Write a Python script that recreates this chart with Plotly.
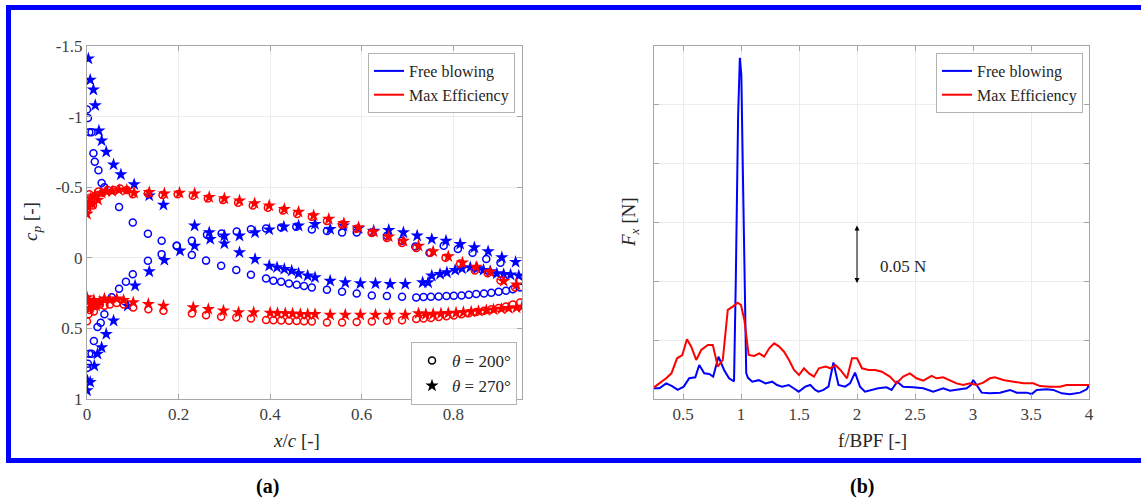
import plotly.graph_objects as go

# ---------------- (a) pressure coefficient data ----------------
# Free blowing, theta = 200 deg (blue circles)
fb200_a_x = [0.000, 0.002, 0.005, 0.010, 0.014, 0.017, 0.025, 0.032, 0.038, 0.070, 0.100, 0.133, 0.163, 0.196,
             0.229, 0.262, 0.294, 0.327, 0.358, 0.391, 0.424, 0.457, 0.491, 0.524, 0.557, 0.589, 0.622, 0.655,
             0.688, 0.717, 0.748, 0.779, 0.810, 0.842, 0.872, 0.903]
fb200_a_cp = [-1.05, -0.99, -0.89, -0.89, -0.74, -0.68, -0.62, -0.53, -0.50, -0.36, -0.25, -0.17, -0.12, -0.085,
              -0.12, -0.163, -0.172, -0.186, -0.203, -0.208, -0.215, -0.22, -0.20, -0.19, -0.18, -0.18, -0.18, -0.156,
              -0.12, -0.08, -0.035, -0.085, -0.062, -0.035, 0.009, 0.035]
fb200_b_x = [0.000, 0.002, 0.005, 0.010, 0.015, 0.023, 0.030, 0.038, 0.054, 0.070, 0.085, 0.100, 0.133, 0.163,
             0.196, 0.229, 0.260, 0.293, 0.326, 0.358, 0.391, 0.407, 0.424, 0.441, 0.458, 0.474, 0.491, 0.524,
             0.557, 0.589, 0.622, 0.655, 0.688, 0.719, 0.735, 0.751, 0.768, 0.785, 0.801, 0.818, 0.834, 0.850,
             0.867, 0.883, 0.899, 0.915, 0.930, 0.946]
fb200_b_cp = [0.78, 0.75, 0.68, 0.68, 0.59, 0.49, 0.46, 0.40, 0.28, 0.22, 0.17, 0.116, 0.021, -0.026,
              -0.085, -0.02, 0.02, 0.057, 0.087, 0.12, 0.147, 0.163, 0.17, 0.182, 0.191, 0.20, 0.21, 0.227,
              0.241, 0.253, 0.267, 0.271, 0.276, 0.281, 0.278, 0.276, 0.274, 0.271, 0.269, 0.267, 0.262, 0.257,
              0.253, 0.248, 0.241, 0.234, 0.222, 0.21]

# Free blowing, theta = 270 deg (blue stars)
fb270_a_x = [0.003, 0.007, 0.014, 0.018, 0.026, 0.032, 0.042, 0.058, 0.074, 0.103, 0.136, 0.167, 0.235, 0.267,
             0.300, 0.333, 0.367, 0.398, 0.430, 0.462, 0.498, 0.531, 0.560, 0.593, 0.626, 0.659, 0.691, 0.721,
             0.753, 0.784, 0.815, 0.846, 0.876, 0.906, 0.936]
fb270_a_cp = [-1.41, -1.26, -1.19, -1.08, -0.90, -0.83, -0.75, -0.66, -0.59, -0.52, -0.44, -0.375, -0.227, -0.179,
              -0.156, -0.156, -0.179, -0.20, -0.22, -0.227, -0.238, -0.203, -0.227, -0.208, -0.191, -0.196, -0.179, -0.156,
              -0.132, -0.12, -0.097, -0.073, -0.045, -0.002, 0.03]
fb270_b_x = [0.000, 0.001, 0.007, 0.016, 0.023, 0.032, 0.042, 0.058, 0.089, 0.105, 0.136, 0.169, 0.203, 0.235,
             0.269, 0.300, 0.333, 0.367, 0.398, 0.415, 0.431, 0.447, 0.462, 0.482, 0.498, 0.531, 0.564, 0.597,
             0.630, 0.662, 0.695, 0.733, 0.745, 0.753, 0.771, 0.786, 0.804, 0.819, 0.837, 0.852, 0.866, 0.881,
             0.895, 0.910, 0.925, 0.943]
fb270_b_cp = [0.94, 0.87, 0.88, 0.765, 0.68, 0.635, 0.54, 0.446, 0.34, 0.198, 0.097, 0.016, -0.05, -0.085,
              -0.132, -0.101, -0.038, 0.009, 0.057, 0.068, 0.08, 0.092, 0.111, 0.127, 0.139, 0.163, 0.175, 0.182,
              0.182, 0.186, 0.186, 0.175, 0.175, 0.127, 0.116, 0.104, 0.087, 0.076, 0.068, 0.076, 0.087, 0.097,
              0.111, 0.116, 0.12, 0.127]

# Max efficiency, theta = 200 deg (red circles)
me200_a_x = [0.0, 0.002, 0.005, 0.009, 0.013, 0.018, 0.025, 0.034, 0.045, 0.058, 0.072, 0.087, 0.100, 0.133,
             0.165, 0.198, 0.231, 0.264, 0.297, 0.330, 0.362, 0.395, 0.428, 0.459, 0.491, 0.524, 0.557, 0.589,
             0.622, 0.655, 0.688, 0.719, 0.750, 0.783, 0.815, 0.847, 0.875, 0.903, 0.935]
me200_a_cp = [-0.35, -0.42, -0.45, -0.40, -0.37, -0.44, -0.47, -0.46, -0.48, -0.48, -0.49, -0.48, -0.45, -0.455,
              -0.445, -0.45, -0.44, -0.42, -0.41, -0.39, -0.37, -0.355, -0.335, -0.31, -0.29, -0.26, -0.235, -0.205,
              -0.175, -0.14, -0.105, -0.07, -0.035, 0.0, 0.04, 0.09, 0.11, 0.16, 0.21]
me200_b_x = [0.0, 0.003, 0.006, 0.010, 0.015, 0.020, 0.028, 0.038, 0.050, 0.065, 0.080, 0.101, 0.134, 0.167,
             0.229, 0.260, 0.293, 0.326, 0.358, 0.391, 0.407, 0.424, 0.441, 0.458, 0.474, 0.491, 0.524, 0.557,
             0.589, 0.622, 0.655, 0.688, 0.719, 0.735, 0.751, 0.768, 0.785, 0.801, 0.818, 0.834, 0.850, 0.867,
             0.883, 0.899, 0.915, 0.930, 0.946]
me200_b_cp = [0.45, 0.40, 0.37, 0.35, 0.38, 0.34, 0.33, 0.34, 0.33, 0.32, 0.33, 0.352, 0.364, 0.375,
              0.394, 0.406, 0.418, 0.423, 0.43, 0.44, 0.442, 0.444, 0.446, 0.448, 0.45, 0.451, 0.458, 0.458,
              0.454, 0.451, 0.446, 0.442, 0.434, 0.43, 0.426, 0.42, 0.414, 0.408, 0.40, 0.392, 0.384, 0.375,
              0.365, 0.355, 0.345, 0.33, 0.316]

# Max efficiency, theta = 270 deg (red stars)
me270_a_x = [0.0, 0.002, 0.005, 0.008, 0.012, 0.017, 0.024, 0.032, 0.042, 0.055, 0.070, 0.087, 0.103, 0.136,
             0.169, 0.202, 0.235, 0.267, 0.300, 0.333, 0.366, 0.398, 0.431, 0.462, 0.495, 0.528, 0.561, 0.593,
             0.626, 0.659, 0.691, 0.724, 0.756, 0.789, 0.820, 0.850, 0.880, 0.910, 0.938]
me270_a_cp = [-0.31, -0.36, -0.39, -0.42, -0.38, -0.44, -0.41, -0.46, -0.47, -0.47, -0.48, -0.48, -0.46, -0.465,
              -0.455, -0.46, -0.455, -0.43, -0.42, -0.405, -0.385, -0.37, -0.345, -0.325, -0.30, -0.275, -0.245, -0.215,
              -0.185, -0.15, -0.12, -0.085, -0.045, -0.01, 0.035, 0.065, 0.10, 0.165, 0.19]
me270_b_x = [0.0, 0.003, 0.006, 0.010, 0.015, 0.020, 0.028, 0.038, 0.050, 0.065, 0.080, 0.101, 0.134, 0.167,
             0.232, 0.265, 0.298, 0.331, 0.364, 0.400, 0.416, 0.433, 0.449, 0.466, 0.482, 0.498, 0.531, 0.564,
             0.597, 0.630, 0.661, 0.695, 0.724, 0.740, 0.756, 0.773, 0.789, 0.806, 0.822, 0.839, 0.855, 0.872,
             0.888, 0.905, 0.921, 0.938, 0.950]
me270_b_cp = [0.28, 0.31, 0.36, 0.33, 0.30, 0.34, 0.31, 0.29, 0.30, 0.29, 0.30, 0.316, 0.328, 0.34,
              0.352, 0.364, 0.375, 0.387, 0.387, 0.39, 0.392, 0.394, 0.396, 0.399, 0.40, 0.40, 0.404, 0.404,
              0.404, 0.404, 0.404, 0.404, 0.394, 0.40, 0.398, 0.395, 0.392, 0.39, 0.386, 0.382, 0.378, 0.372,
              0.367, 0.362, 0.357, 0.352, 0.347]

# ---------------- (b) force spectrum data ----------------
fb_f = [0.25, 0.297, 0.355, 0.406, 0.454, 0.506, 0.554, 0.606, 0.640, 0.683, 0.726, 0.760, 0.806, 0.854, 0.897,
        0.926, 0.940, 0.955, 0.975, 0.990, 1.003, 1.015, 1.030, 1.045, 1.060, 1.097, 1.154, 1.211, 1.268, 1.311,
        1.354, 1.411, 1.454, 1.497, 1.554, 1.597, 1.640, 1.668, 1.711, 1.754, 1.797, 1.840, 1.897, 1.940, 1.983,
        2.026, 2.069, 2.125, 2.183, 2.255, 2.298, 2.346, 2.398, 2.484, 2.571, 2.657, 2.743, 2.801, 2.887, 2.945,
        2.982, 3.002, 3.031, 3.075, 3.146, 3.233, 3.319, 3.377, 3.463, 3.506, 3.549, 3.636, 3.692, 3.765, 3.836,
        3.923, 3.980, 4.0]
fb_fx = [0.0091, 0.0091, 0.0133, 0.011, 0.0077, 0.0105, 0.0176, 0.0184, 0.0289, 0.0218, 0.0213, 0.019, 0.036, 0.0247, 0.0176,
         0.0153, 0.015, 0.10, 0.24, 0.29, 0.275, 0.20, 0.10, 0.022, 0.018, 0.0147, 0.016, 0.0133, 0.0147, 0.0119,
         0.0105, 0.0119, 0.0091, 0.0062, 0.0105, 0.0119, 0.0077, 0.0062, 0.0077, 0.0105, 0.031, 0.0119, 0.0105, 0.0133, 0.0224,
         0.0105, 0.0062, 0.0077, 0.0091, 0.0099, 0.0077, 0.0147, 0.0105, 0.0099, 0.0091, 0.0062, 0.0091, 0.0071, 0.0082, 0.0091,
         0.0119, 0.0162, 0.0119, 0.0054, 0.0048, 0.0054, 0.0077, 0.0054, 0.0054, 0.0042, 0.0077, 0.0082, 0.0077, 0.0048, 0.004,
         0.0054, 0.0082, 0.0119]
me_f = [0.25, 0.297, 0.355, 0.40, 0.449, 0.494, 0.534, 0.571, 0.614, 0.657, 0.714, 0.757, 0.80, 0.843, 0.886,
        0.929, 0.971, 1.0, 1.029, 1.066, 1.114, 1.157, 1.2, 1.243, 1.286, 1.329, 1.371, 1.414, 1.457, 1.50,
        1.543, 1.586, 1.629, 1.671, 1.729, 1.771, 1.814, 1.857, 1.914, 1.957, 2.0, 2.043, 2.1, 2.157, 2.214,
        2.283, 2.34, 2.398, 2.456, 2.513, 2.571, 2.643, 2.686, 2.743, 2.801, 2.858, 2.916, 2.973, 3.031, 3.088,
        3.146, 3.189, 3.261, 3.347, 3.434, 3.52, 3.577, 3.664, 3.75, 3.807, 3.893, 4.0]
me_fx = [0.0099, 0.0133, 0.0176, 0.0218, 0.0346, 0.0374, 0.0507, 0.0445, 0.0332, 0.0417, 0.0459, 0.0459, 0.0275, 0.0332, 0.0757,
         0.0785, 0.0819, 0.0799, 0.0672, 0.0374, 0.0366, 0.0388, 0.036, 0.0431, 0.0473, 0.0445, 0.0402, 0.0332, 0.0247, 0.0204,
         0.0261, 0.0218, 0.019, 0.0261, 0.0275, 0.0261, 0.0289, 0.0247, 0.0176, 0.0346, 0.0346, 0.0261, 0.0247, 0.0247, 0.0232,
         0.019, 0.0133, 0.019, 0.0218, 0.0176, 0.0156, 0.0196, 0.0176, 0.0184, 0.0156, 0.0133, 0.0119, 0.0133, 0.0119, 0.0139,
         0.0176, 0.0184, 0.0162, 0.0147, 0.0133, 0.0133, 0.011, 0.0105, 0.0105, 0.0119, 0.0119, 0.0119]

# ticks / labels
a_xticks = [0, 0.2, 0.4, 0.6, 0.8]
a_xticktext = ["0", "0.2", "0.4", "0.6", "0.8"]
a_yticks = [-1.5, -1, -0.5, 0, 0.5, 1]
a_yticktext = ["-1.5", "-1", "-0.5", "0", "0.5", "1"]
b_xticks = [0.5, 1, 1.5, 2, 2.5, 3, 3.5, 4]
b_xticktext = ["0.5", "1", "1.5", "2", "2.5", "3", "3.5", "4"]
b_yticks = [0, 0.05, 0.1, 0.15, 0.2, 0.25, 0.3]
series_names = ["Free blowing", "Max Efficiency"]
theta_names = ["<i>θ</i> = 200°", "<i>θ</i> = 270°"]

BLUE = "#0000ff"
RED = "#ff0000"
SERIF = "Liberation Serif, Times New Roman, serif"
W, H = 1141, 500

fig = go.Figure()

def circ(x, y, c):
    fig.add_trace(go.Scatter(x=x, y=y, mode="markers", xaxis="x", yaxis="y", showlegend=False,
                             marker=dict(symbol="circle-open", size=7, color=c, line=dict(width=1.5, color=c))))

def star(x, y, c):
    fig.add_trace(go.Scatter(x=x, y=y, mode="markers", xaxis="x", yaxis="y", showlegend=False,
                             marker=dict(symbol="star", size=10, color=c, line=dict(width=0))))

circ(fb200_a_x, fb200_a_cp, BLUE)
circ(fb200_b_x, fb200_b_cp, BLUE)
star(fb270_a_x, fb270_a_cp, BLUE)
star(fb270_b_x, fb270_b_cp, BLUE)
circ(me200_a_x, me200_a_cp, RED)
circ(me200_b_x, me200_b_cp, RED)
star(me270_a_x, me270_a_cp, RED)
star(me270_b_x, me270_b_cp, RED)

# legends for (a)
for name, c in zip(series_names, [BLUE, RED]):
    fig.add_trace(go.Scatter(x=[None], y=[None], mode="lines", name=name, line=dict(color=c, width=2),
                             xaxis="x", yaxis="y", legend="legend"))
fig.add_trace(go.Scatter(x=[None], y=[None], mode="markers", name=theta_names[0], xaxis="x", yaxis="y",
                         legend="legend2",
                         marker=dict(symbol="circle-open", size=7, color="black", line=dict(width=1.5, color="black"))))
fig.add_trace(go.Scatter(x=[None], y=[None], mode="markers", name=theta_names[1], xaxis="x", yaxis="y",
                         legend="legend2", marker=dict(symbol="star", size=10, color="black")))

# (b) spectra
fig.add_trace(go.Scatter(x=fb_f, y=fb_fx, mode="lines", name=series_names[0], line=dict(color=BLUE, width=2),
                         xaxis="x2", yaxis="y2", legend="legend3"))
fig.add_trace(go.Scatter(x=me_f, y=me_fx, mode="lines", name=series_names[1], line=dict(color=RED, width=2),
                         xaxis="x2", yaxis="y2", legend="legend3"))

ax_common = dict(showline=True, linecolor="#a6a6a6", linewidth=1, mirror="ticks", ticks="inside",
                 ticklen=5, tickcolor="#a6a6a6", showgrid=True, gridcolor="#ececec", gridwidth=1,
                 zeroline=False, tickfont=dict(family=SERIF, size=17, color="#404040"))

def px_x(p):
    return p / W

def px_y(p):
    return 1 - p / H

leg_common = dict(xanchor="right", yanchor="top", bgcolor="white", bordercolor="#b3b3b3", borderwidth=1,
                  tracegroupgap=0, itemwidth=30)

fig.update_layout(
    width=W, height=H, margin=dict(l=0, r=0, t=0, b=0, autoexpand=False),
    paper_bgcolor="white", plot_bgcolor="white",
    xaxis=dict(domain=[px_x(87), px_x(522)], range=[0, 0.95], tickvals=a_xticks, ticktext=a_xticktext,
               anchor="y", **ax_common),
    yaxis=dict(domain=[px_y(399), px_y(46)], range=[1, -1.5], tickvals=a_yticks, ticktext=a_yticktext,
               anchor="x", **ax_common),
    xaxis2=dict(domain=[px_x(654), px_x(1089)], range=[0.25, 4], tickvals=b_xticks, ticktext=b_xticktext,
                anchor="y2", **ax_common),
    yaxis2=dict(domain=[px_y(399), px_y(46)], range=[0, 0.3], tickvals=b_yticks, showticklabels=False,
                anchor="x2", **ax_common),
    legend=dict(x=px_x(515), y=px_y(53), font=dict(family=SERIF, size=16, color="#262626"), **leg_common),
    legend2=dict(x=px_x(517), y=px_y(342), font=dict(family=SERIF, size=17, color="#262626"), **leg_common),
    legend3=dict(x=px_x(1083), y=px_y(53), font=dict(family=SERIF, size=16, color="#262626"), **leg_common),
    showlegend=True,
)

ann_font = dict(family=SERIF, size=19, color="#262626")

def label(text, x, y, angle=0, font=ann_font):
    return dict(text=text, x=px_x(x), y=px_y(y), xref="paper", yref="paper", xanchor="center",
                yanchor="middle", textangle=angle, showarrow=False, font=font)

annotations = [
    label("<i>c<sub>p</sub></i> [-]", 32, 222, -90),
    label("<i>x</i>/<i>c</i> [-]", 297, 440),
    label("<i>F<sub>x</sub></i> [N]", 630, 222, -90),
    label("f/BPF [-]", 872, 440),
    label("<b>(a)</b>", 267, 486, 0, dict(family=SERIF, size=20, color="black")),
    label("<b>(b)</b>", 862, 486, 0, dict(family=SERIF, size=20, color="black")),
    dict(text="", x=2.0, y=0.0986, ax=2.0, ay=0.1487, xref="x2", yref="y2", axref="x2", ayref="y2",
         showarrow=True, arrowhead=2, arrowside="end+start", arrowsize=1, arrowwidth=1, arrowcolor="black"),
    dict(text="0.05 N", x=2.18, y=0.113, xref="x2", yref="y2", xanchor="left", yanchor="middle",
         showarrow=False, font=dict(family=SERIF, size=17, color="#262626")),
]
fig.update_layout(annotations=annotations)

# blue figure frame (right edge lies outside the picture)
fig.add_shape(type="rect", xref="paper", yref="paper", x0=px_x(8.5), x1=px_x(1150), y0=px_y(460.5), y1=px_y(7.5),
              line=dict(color="#0000ff", width=5), fillcolor="rgba(0,0,0,0)")

fig.write_html("out.html", config={"displayModeBar": False},
               post_script="document.body.style.margin='0';document.body.style.overflow='hidden';")
